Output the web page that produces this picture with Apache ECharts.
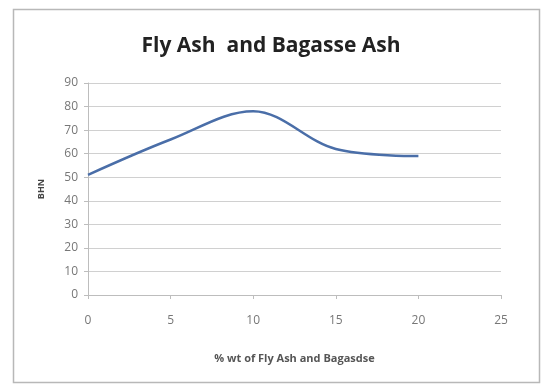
<!DOCTYPE html>
<html>
<head>
<meta charset="utf-8">
<script src="https://cdn.jsdelivr.net/npm/echarts@6/dist/echarts.min.js"></script>
<style>
html,body{margin:0;padding:0;background:#fff;}
#chart{width:542px;height:385px;}
</style>
</head>
<body>
<div id="chart"></div>
<script>
const titleText = "Fly Ash  and Bagasse Ash";
const xAxisName = "% wt of Fly Ash and Bagasdse";
const yAxisName = "BHN";
const xValues = [0, 5, 10, 15, 20];
const bhnValues = [51, 66, 78, 62, 59];
const xTicks = [0, 5, 10, 15, 20, 25];
const yTicks = [0, 10, 20, 30, 40, 50, 60, 70, 80, 90];

const chart = echarts.init(document.getElementById('chart'), null, {renderer: 'canvas'});
const font = "'Open Sans', 'Liberation Sans', sans-serif";
chart.setOption({
  animation: false,
  backgroundColor: '#fff',
  title: {
    text: titleText,
    left: 'center',
    top: 31,
    textStyle: {fontFamily: font, fontSize: 21, fontWeight: 'bold', color: '#222'}
  },
  graphic: [{
    type: 'rect',
    shape: {x: 13.5, y: 9.5, width: 526, height: 373},
    style: {fill: 'none', stroke: '#b8b8b8', lineWidth: 1.5},
    silent: true, z: -1
  }],
  grid: {left: 88, right: 41, top: 83, bottom: 90, containLabel: false},
  xAxis: {
    type: 'value',
    min: 0, max: 25, interval: 5,
    name: xAxisName,
    nameLocation: 'middle',
    nameGap: 58,
    nameTextStyle: {fontFamily: font, fontSize: 11, fontWeight: 'bold', color: '#555'},
    axisLine: {show: true, lineStyle: {color: '#bdbdbd', width: 1}},
    axisTick: {show: true, inside: false, length: 4, lineStyle: {color: '#bdbdbd'}},
    axisLabel: {fontFamily: font, fontSize: 12, color: '#777', margin: 20,
      formatter: v => xTicks.includes(v) ? String(v) : ''},
    splitLine: {show: false}
  },
  yAxis: {
    type: 'value',
    min: 0, max: 90, interval: 10,
    name: yAxisName,
    nameLocation: 'middle',
    nameGap: 42,
    nameRotate: 90,
    nameTextStyle: {fontFamily: font, fontSize: 9, fontWeight: 'bold', color: '#444'},
    axisLine: {show: true, lineStyle: {color: '#bdbdbd', width: 1}},
    axisTick: {show: true, length: 4, lineStyle: {color: '#bdbdbd'}},
    axisLabel: {fontFamily: font, fontSize: 12, color: '#777', margin: 10,
      formatter: v => yTicks.includes(v) ? String(v) : ''},
    splitLine: {show: true, lineStyle: {color: '#d0d0d0', width: 1}}
  },
  series: [{
    type: 'line',
    data: xValues.map((x, i) => [x, bhnValues[i]]),
    smooth: 0.35,
    showSymbol: false,
    lineStyle: {color: '#4a6ea8', width: 2.5},
    itemStyle: {color: '#4a6ea8'}
  }]
});
</script>
</body>
</html>
